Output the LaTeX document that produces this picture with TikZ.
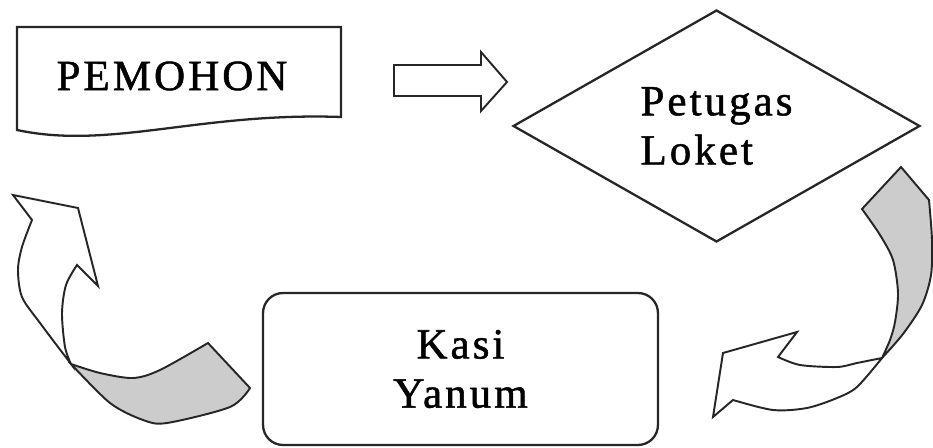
\documentclass[tikz,border=0pt]{standalone}
\usepackage{fontspec}
\setmainfont{Liberation Serif}
\newfontfamily\boxfont{Liberation Serif}[LetterSpace=7,FakeBold=1.2]
\usetikzlibrary{shapes.geometric}

\tikzset{
  outline/.style={draw=black!85, line width=1.3pt},
  ribbon/.style={draw=black!85, line width=1.1pt, line join=miter},
  lbl/.style={font=\boxfont\fontsize{24.5}{28}\selectfont}
}

\begin{document}
\begin{tikzpicture}[x=0.02cm, y=-0.02cm]
    \useasboundingbox (0,0) rectangle (933,448);
    % applicant (document shape)
    \node (pemohon) [lbl] at (172,76) {PEMOHON};
    \draw [outline] (17,27) -- (341,27) -- (341,117)
        .. controls (200,112) and (110,150) .. (17,130) -- cycle;
    % counter officer
    \node (petugas) [diamond, outline, aspect=1.75, minimum width=8.14cm,
        minimum height=4.64cm, inner sep=0pt, align=left, lbl] at (716.5,126) {Petugas\\Loket};
    % head of service section
    \node (kasi) [rectangle, rounded corners=0.4cm, outline, minimum width=7.9cm,
        minimum height=3.04cm, align=center, lbl] at (460.5,369) {Kasi\\Yanum};

    % block arrow pemohon -> petugas
    \draw [ribbon] (394,65) -- (481,65) -- (481,52) -- (507,82) -- (481,111)
        -- (481,96) -- (394,96) -- cycle;

    % curved arrow petugas -> kasi (back side, then front)
    \filldraw [ribbon, fill=gray!40] (901,167) -- (929,200)
        -- plot [smooth] coordinates {(929,200) (932,240) (931,275) (922,305) (903,334) (882,358)}
        -- plot [smooth] coordinates {(882,358) (890,340) (895,322) (898,293) (893,260) (880,235) (862,209)}
        -- cycle;
    \filldraw [ribbon, fill=white] (882,358)
        -- plot [smooth] coordinates {(882,358) (857,387) (837,398) (807,408) (773,410) (733,400)}
        -- (713,417) -- (723,353) -- (797,332) -- (778,357)
        -- plot [smooth] coordinates {(778,357) (800,365) (837,367) (857,363) (882,358)}
        -- cycle;

    % curved arrow kasi -> pemohon (back side, then front)
    \filldraw [ribbon, fill=gray!40] (208,343)
        -- plot [smooth] coordinates {(208,343) (160,370) (133,378) (100,373) (71,364)}
        -- plot [smooth] coordinates {(71,364) (110,403) (143,420) (167,423) (230,407) (250,388)}
        -- cycle;
    \filldraw [ribbon, fill=white] (71,364)
        -- plot [smooth] coordinates {(71,364) (40,323) (22,297) (18,270) (22,247) (32,220)}
        -- (13,195) -- (78,208) -- (98,286) -- (77,265)
        -- plot [smooth] coordinates {(77,265) (66,285) (62,313) (65,347) (71,364)}
        -- cycle;
\end{tikzpicture}
\end{document}
